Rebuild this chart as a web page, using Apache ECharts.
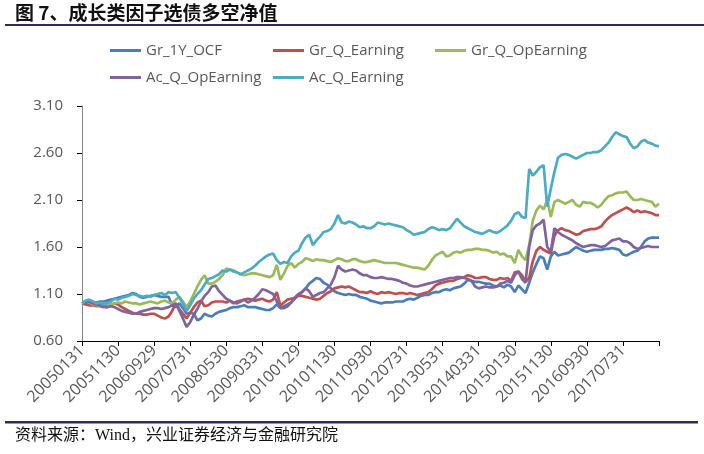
<!DOCTYPE html>
<html><head><meta charset="utf-8">
<script src="https://cdn.jsdelivr.net/npm/echarts@6/dist/echarts.min.js"></script>
<style>html,body{margin:0;padding:0;background:#fff}#c{width:704px;height:454px}</style>
</head><body><div id="c"></div>
<script>
const categories = [
"20050131","20050228","20050331","20050429","20050531","20050630","20050729","20050831","20050930","20051031","20051130","20051230",
"20060131","20060228","20060331","20060428","20060531","20060630","20060731","20060831","20060929","20061031","20061130","20061229",
"20070131","20070228","20070330","20070430","20070531","20070629","20070731","20070831","20070928","20071031","20071130","20071231",
"20080131","20080229","20080331","20080430","20080530","20080630","20080731","20080829","20080930","20081031","20081128","20081231",
"20090130","20090227","20090331","20090430","20090529","20090630","20090731","20090831","20090930","20091030","20091130","20091231",
"20100129","20100226","20100331","20100430","20100531","20100630","20100730","20100831","20100930","20101029","20101130","20101231",
"20110131","20110228","20110331","20110429","20110531","20110630","20110729","20110831","20110930","20111031","20111130","20111230",
"20120131","20120229","20120330","20120430","20120531","20120629","20120731","20120831","20120928","20121031","20121130","20121231",
"20130131","20130228","20130329","20130430","20130531","20130628","20130731","20130830","20130930","20131031","20131129","20131231",
"20140130","20140228","20140331","20140430","20140530","20140630","20140731","20140829","20140930","20141031","20141128","20141231",
"20150130","20150227","20150331","20150430","20150529","20150630","20150731","20150831","20150930","20151030","20151130","20151231",
"20160129","20160229","20160331","20160429","20160531","20160630","20160729","20160831","20160930","20161031","20161130","20161230",
"20170126","20170228","20170331","20170428","20170531","20170630","20170731","20170831","20170929","20171031","20171130","20171229",
"20180131","20180228","20180330","20180427","20180531"];

const gr1YOCF = [
1.00,1.00,0.99,1.00,1.01,1.02,1.02,1.03,1.04,1.05,
1.06,1.07,1.08,1.09,1.11,1.10,1.07,1.06,1.07,1.08,
1.09,1.08,1.07,1.07,1.07,0.98,0.96,1.00,0.95,0.89,
0.90,0.89,0.82,0.84,0.89,0.87,0.86,0.89,0.91,0.92,
0.93,0.95,0.96,0.96,0.97,0.98,0.96,0.96,0.96,0.95,
0.94,0.93,0.93,0.95,0.99,0.95,0.97,0.99,1.01,1.05,
1.09,1.12,1.16,1.21,1.24,1.27,1.26,1.22,1.20,1.16,
1.13,1.11,1.10,1.09,1.10,1.09,1.09,1.07,1.06,1.05,
1.03,1.02,1.01,1.00,1.01,1.01,1.01,1.02,1.02,1.02,
1.04,1.05,1.04,1.06,1.08,1.09,1.09,1.11,1.12,1.12,
1.14,1.15,1.14,1.16,1.17,1.18,1.21,1.25,1.24,1.23,
1.23,1.22,1.21,1.21,1.19,1.18,1.19,1.17,1.20,1.18,
1.12,1.19,1.15,1.11,1.22,1.33,1.42,1.50,1.48,1.36,
1.50,1.55,1.51,1.52,1.53,1.54,1.57,1.60,1.58,1.56,
1.55,1.56,1.57,1.57,1.57,1.58,1.58,1.59,1.58,1.57,
1.52,1.51,1.53,1.55,1.56,1.60,1.66,1.69,1.70,1.70,
1.70];

const grQEarning = [
1.00,0.99,0.98,0.98,0.97,0.97,0.96,0.96,0.98,1.00,
0.99,0.96,0.94,0.92,0.90,0.89,0.89,0.88,0.88,0.89,
0.89,0.87,0.85,0.84,0.86,0.92,1.00,0.94,0.89,0.84,
0.90,0.96,1.01,1.03,0.97,0.98,1.01,1.02,1.02,1.02,
1.01,1.03,1.00,1.02,1.03,1.04,1.05,1.04,1.03,1.04,
1.05,1.03,1.02,1.04,1.12,0.98,1.01,1.04,1.05,1.06,
1.08,1.08,1.07,1.06,1.05,1.04,1.05,1.08,1.11,1.13,
1.16,1.17,1.18,1.17,1.18,1.16,1.14,1.12,1.12,1.11,
1.13,1.11,1.10,1.12,1.11,1.12,1.11,1.10,1.11,1.11,
1.10,1.11,1.10,1.09,1.10,1.11,1.12,1.15,1.19,1.21,
1.22,1.23,1.24,1.24,1.26,1.27,1.28,1.30,1.29,1.27,
1.27,1.28,1.28,1.26,1.25,1.25,1.27,1.26,1.27,1.24,
1.33,1.34,1.30,1.23,1.27,1.45,1.56,1.60,1.57,1.55,
1.53,1.72,1.78,1.80,1.78,1.77,1.75,1.73,1.74,1.77,
1.78,1.79,1.79,1.80,1.82,1.87,1.91,1.94,1.96,1.98,
2.00,2.02,2.00,1.97,1.99,1.97,1.98,1.97,1.96,1.94,
1.94];

const grQOpEarning = [
1.00,1.02,1.01,0.99,0.98,0.98,0.97,0.97,0.99,1.00,
1.01,1.00,1.02,1.01,1.00,1.00,0.99,1.00,1.01,1.02,
1.01,1.00,1.02,1.03,1.01,1.00,1.04,1.07,1.02,0.96,
1.02,1.10,1.18,1.25,1.30,1.21,1.21,1.23,1.26,1.30,
1.37,1.36,1.35,1.33,1.31,1.30,1.31,1.32,1.32,1.31,
1.30,1.29,1.28,1.30,1.41,1.25,1.32,1.40,1.43,1.38,
1.42,1.44,1.48,1.47,1.45,1.47,1.46,1.46,1.45,1.44,
1.46,1.48,1.47,1.45,1.45,1.47,1.47,1.45,1.44,1.44,
1.45,1.46,1.45,1.44,1.43,1.43,1.43,1.43,1.42,1.41,
1.40,1.39,1.38,1.38,1.37,1.36,1.40,1.46,1.51,1.53,
1.55,1.50,1.51,1.54,1.55,1.54,1.56,1.57,1.57,1.58,
1.58,1.57,1.57,1.56,1.54,1.55,1.52,1.53,1.50,1.50,
1.43,1.57,1.50,1.46,1.62,1.88,1.99,2.04,2.00,2.10,
1.92,2.08,2.10,2.08,2.06,2.08,2.10,2.05,2.03,2.08,
2.07,2.07,2.05,2.02,2.05,2.10,2.14,2.15,2.17,2.18,
2.18,2.19,2.14,2.10,2.10,2.11,2.10,2.09,2.08,2.03,
2.06];

const acQOpEarning = [
1.00,1.01,1.02,1.00,0.99,0.98,0.97,0.96,0.97,0.96,
0.94,0.92,0.91,0.90,0.89,0.89,0.91,0.92,0.93,0.94,
0.95,0.95,0.94,0.95,0.96,0.98,1.00,0.92,0.84,0.75,
0.80,0.88,0.94,1.02,1.08,1.12,1.18,1.19,1.13,1.09,
1.05,1.03,1.01,1.00,1.02,1.04,1.01,1.03,1.06,1.10,
1.15,1.14,1.12,1.10,1.02,0.95,0.95,0.97,1.01,1.06,
1.10,1.12,1.16,1.13,1.07,1.09,1.11,1.12,1.16,1.20,
1.28,1.40,1.36,1.34,1.35,1.36,1.35,1.32,1.30,1.30,
1.28,1.27,1.27,1.28,1.27,1.26,1.26,1.25,1.24,1.22,
1.21,1.19,1.18,1.18,1.19,1.20,1.21,1.22,1.23,1.24,
1.25,1.26,1.27,1.27,1.28,1.28,1.27,1.26,1.24,1.18,
1.16,1.17,1.18,1.17,1.17,1.18,1.21,1.22,1.24,1.22,
1.30,1.34,1.26,1.22,1.60,1.78,1.83,1.85,1.89,1.60,
1.55,1.80,1.76,1.73,1.71,1.69,1.67,1.64,1.62,1.60,
1.61,1.62,1.62,1.61,1.60,1.61,1.64,1.67,1.68,1.69,
1.66,1.66,1.64,1.60,1.58,1.59,1.60,1.61,1.60,1.60,
1.60];

const acQEarning = [
1.00,1.03,1.04,1.02,1.00,1.01,0.99,1.00,1.02,1.05,
1.04,1.06,1.07,1.08,1.10,1.09,1.08,1.07,1.08,1.07,
1.09,1.10,1.11,1.09,1.12,1.11,1.12,1.06,1.00,0.92,
0.98,1.05,1.10,1.14,1.20,1.26,1.27,1.29,1.31,1.35,
1.34,1.36,1.34,1.33,1.31,1.33,1.35,1.37,1.40,1.44,
1.47,1.50,1.52,1.53,1.46,1.42,1.44,1.43,1.50,1.54,
1.56,1.64,1.70,1.73,1.62,1.67,1.71,1.76,1.77,1.79,
1.85,1.94,1.86,1.85,1.87,1.86,1.84,1.81,1.82,1.80,
1.80,1.82,1.86,1.85,1.84,1.85,1.84,1.83,1.82,1.81,
1.78,1.76,1.73,1.74,1.75,1.76,1.79,1.81,1.80,1.78,
1.79,1.78,1.80,1.85,1.90,1.86,1.82,1.80,1.78,1.76,
1.75,1.74,1.76,1.78,1.76,1.75,1.77,1.80,1.83,1.88,
1.95,1.97,1.92,1.91,2.43,2.36,2.40,2.45,2.47,2.03,
2.22,2.40,2.55,2.58,2.59,2.58,2.56,2.54,2.56,2.58,
2.60,2.60,2.61,2.61,2.63,2.67,2.71,2.77,2.82,2.80,
2.78,2.77,2.70,2.65,2.67,2.72,2.74,2.71,2.70,2.68,
2.67];

const seriesNames = ["Gr_1Y_OCF","Gr_Q_Earning","Gr_Q_OpEarning","Ac_Q_OpEarning","Ac_Q_Earning"];
const seriesData = [gr1YOCF, grQEarning, grQOpEarning, acQOpEarning, acQEarning];
const seriesColors = ["#4A7EBB","#C0504D","#9BBB59","#8064A2","#4BACC6"];
const yTickValues = [0.60,1.10,1.60,2.10,2.60,3.10];
const titleText = "图 7、成长类因子选债多空净值";
const sourceText = "资料来源：Wind，兴业证券经济与金融研究院";

const legendPos = [[110,43],[273,43],[435,43],[110,70],[273,70]];

const chart = echarts.init(document.getElementById('c'), null, {renderer:'canvas'});
const option = {
  animation: false,
  backgroundColor: '#fff',
  title: {
    text: titleText, left: 15, top: 3, padding: 0,
    textStyle: {fontFamily: 'Noto Sans CJK SC', fontSize: 19, fontWeight: 'bold', color: '#111'}
  },
  legend: seriesNames.map((n, i) => ({
    data: [n], left: legendPos[i][0], top: legendPos[i][1], padding: 0,
    icon: 'rect', itemWidth: 31, itemHeight: 3,
    textStyle: {fontFamily: 'Open Sans', fontSize: 15, color: '#595959'}
  })),
  grid: {left: 82, right: 45, top: 106, bottom: 113},
  xAxis: {
    type: 'category', data: categories, boundaryGap: false,
    axisLine: {lineStyle: {color: '#000', width: 1}},
    axisTick: {interval: (i) => i % 10 === 0, length: 5, lineStyle: {color: '#000'}},
    axisLabel: {interval: (i) => i % 10 === 0 && i < categories.length - 1, rotate: 45,
      fontFamily: 'Open Sans', fontSize: 16, color: '#595959', margin: 7}
  },
  yAxis: {
    type: 'value', min: 0.6, max: 3.1,
    splitLine: {show: false},
    axisLine: {show: true, lineStyle: {color: '#868686'}},
    axisTick: {show: true, length: 5, customValues: yTickValues, lineStyle: {color: '#000'}},
    axisLabel: {customValues: yTickValues, formatter: v => v.toFixed(2),
      fontFamily: 'Open Sans', fontSize: 15, color: '#595959', margin: 19}
  },
  series: seriesNames.map((n, i) => ({
    name: n, type: 'line', data: seriesData[i], showSymbol: false, symbol: 'none',
    color: seriesColors[i], lineStyle: {width: 2.7, color: seriesColors[i]}, z: 2 + i
  })),
  graphic: [
    {type: 'rect', left: 5, top: 24, shape: {width: 699, height: 2}, style: {fill: '#2E2B5F'}},
    {type: 'rect', left: 5, top: 421, shape: {width: 693, height: 2.5}, style: {fill: '#2E2B5F'}},
    {type: 'text', left: 15, top: 428, style: {text: sourceText, fontFamily: "'Liberation Serif', 'Noto Sans CJK SC'", fontSize: 16, fill: '#111'}}
  ]
};
chart.setOption(option);
</script>
</body></html>
